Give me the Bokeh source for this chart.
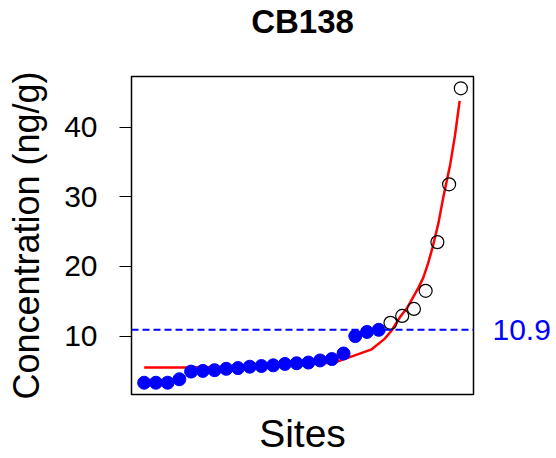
from bokeh.plotting import figure
from bokeh.models import Range1d, LinearAxis, FixedTicker, Span, Title
from bokeh.embed import file_html
from bokeh.resources import INLINE

# ---- data ----
sites_low = list(range(1, 22))
conc_low = [3.3, 3.3, 3.3, 3.8, 4.9, 5.0, 5.1, 5.3, 5.4, 5.6, 5.7,
            5.8, 6.0, 6.1, 6.2, 6.5, 6.7, 7.5, 10.0, 10.6, 10.9]
sites_high = list(range(22, 29))
conc_high = [11.9, 12.9, 13.9, 16.5, 23.5, 31.8, 45.6]
fit_x = [1, 4.7, 8, 12, 15, 17.2, 18.9, 20.4, 21.5, 22.1, 22.8, 23.4,
         23.9, 24.4, 24.8, 25.2, 25.6, 26.1, 26.5, 27.1, 27.5, 27.9]
fit_y = [5.5, 5.5, 5.6, 5.8, 6.0, 6.2, 7.2, 8.1, 9.6, 10.8, 12.7, 14.0,
         15.5, 17.0, 18.4, 20.4, 22.8, 26.3, 29.9, 34.7, 38.8, 43.8]
threshold = 10.9
y_ticks = [10, 20, 30, 40]
title_text = "CB138"
x_label = "Sites"
y_label = "Concentration (ng/g)"

FONT = "Liberation Sans"

all_y = conc_low + conc_high
ymin, ymax = min(all_y), max(all_y)
ypad = 0.04 * (ymax - ymin)
xmin, xmax = 1, 28
xpad = 0.04 * (xmax - xmin)

p = figure(width=556, height=458, output_backend="svg", toolbar_location=None,
           x_range=Range1d(xmin - xpad, xmax + xpad),
           y_range=Range1d(ymin - ypad, ymax + ypad),
           min_border_left=131, min_border_right=83,
           min_border_top=76, min_border_bottom=64)

p.background_fill_color = "white"
p.border_fill_color = "white"
p.outline_line_color = "black"
p.outline_line_width = 1.5
p.xgrid.visible = False
p.ygrid.visible = False

# spacer between frame and title, then the title itself (further out)
p.add_layout(Title(text=" ", text_font=FONT, text_font_size="31px", standoff=0), "above")
p.add_layout(Title(text=title_text, text_font=FONT, text_font_size="33px",
                   text_font_style="bold", text_color="black", align="center",
                   standoff=0), "above")

# x axis: label only
xa = p.xaxis[0]
xa.ticker = FixedTicker(ticks=[])
xa.axis_line_color = None
xa.major_tick_line_color = None
xa.minor_tick_line_color = None
xa.major_tick_out = 0
xa.major_label_text_font_size = "0px"
xa.axis_label = x_label
xa.axis_label_text_font = FONT
xa.axis_label_text_font_size = "39px"
xa.axis_label_text_font_style = "normal"
xa.axis_label_text_color = "black"
xa.axis_label_standoff = 17

# y axis
ya = p.yaxis[0]
ya.ticker = FixedTicker(ticks=y_ticks)
ya.axis_line_color = "black"
ya.major_tick_line_color = "black"
ya.minor_tick_line_color = None
ya.major_tick_out = 12
ya.major_tick_in = 0
ya.major_label_standoff = 22
ya.major_label_text_font = FONT
ya.major_label_text_font_size = "30px"
ya.major_label_text_color = "black"
ya.axis_label = y_label
ya.axis_label_text_font = FONT
ya.axis_label_text_font_size = "36px"
ya.axis_label_text_font_style = "normal"
ya.axis_label_text_color = "black"
ya.axis_label_standoff = 14

# right axis carrying the threshold label
ra = LinearAxis(ticker=FixedTicker(ticks=[threshold]))
ra.axis_line_color = None
ra.major_tick_line_color = None
ra.minor_tick_line_color = None
ra.major_tick_out = 0
ra.major_tick_in = 0
ra.major_label_standoff = 19
ra.major_label_text_font = FONT
ra.major_label_text_font_size = "30px"
ra.major_label_text_color = "#0000FF"
p.add_layout(ra, "right")

# fitted curve
p.line(fit_x, fit_y, line_color="#FF0000", line_width=2.5)

# threshold line
p.add_layout(Span(location=threshold, dimension="width", line_color="#0000FF",
                  line_dash="7 4", line_width=2))

# points
p.scatter(sites_low, conc_low, size=13, marker="circle",
          fill_color="#0000FF", line_color="#0000FF")
p.scatter(sites_high, conc_high, size=13, marker="circle",
          fill_color=None, line_color="black", line_width=1.2)

open("out.html", "w").write(file_html(p, INLINE))
